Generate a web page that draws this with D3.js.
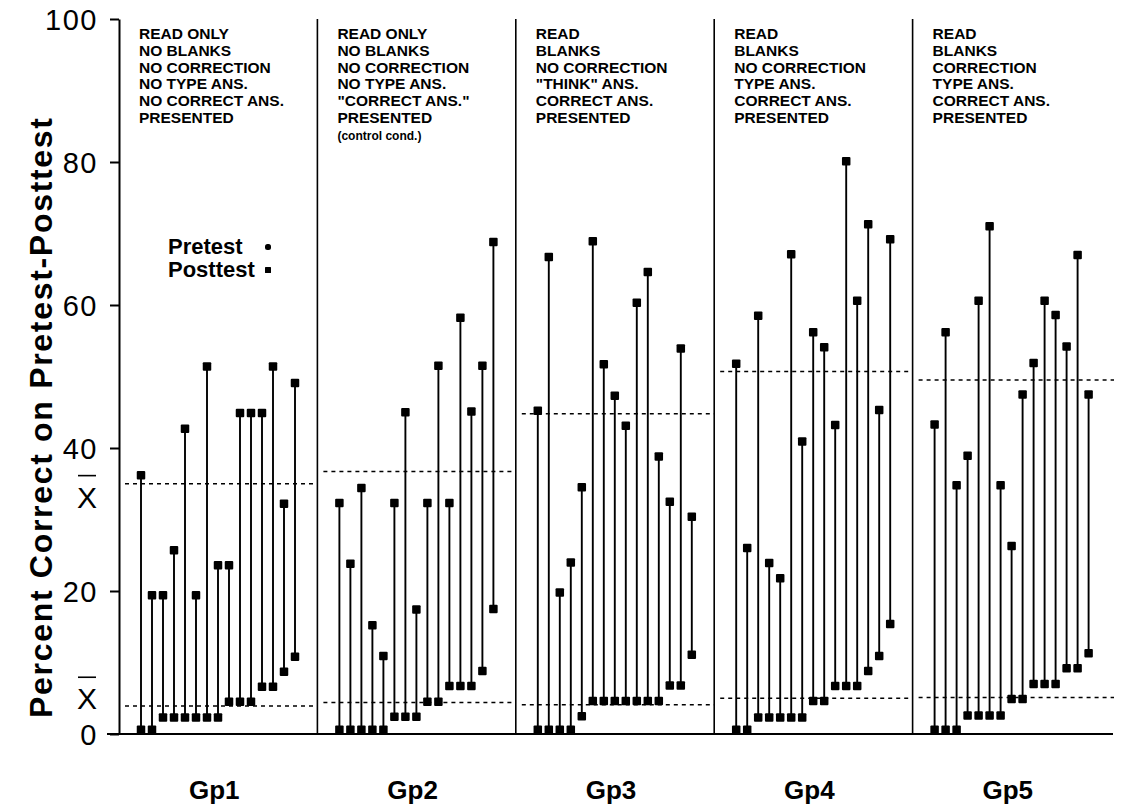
<html>
<head>
<meta charset="utf-8">
<title>pretest posttest</title>
<script src="https://cdn.jsdelivr.net/npm/d3@7"></script>
<style>
  html, body { margin: 0; padding: 0; background: #fff; }
  svg { display: block; font-family: "Liberation Sans", Arial, Helvetica, sans-serif; }
  .tick text { font-size: 29px; letter-spacing: 1.5px; }
  .hdr { font-size: 15.5px; font-weight: bold; }
  .small { font-size: 12px; }
</style>
</head>
<body>
<div id="chart"></div>
<script>
// groups and the condition text printed in each panel
var groups = ["Gp1", "Gp2", "Gp3", "Gp4", "Gp5"];
var conditions = [
  ["READ ONLY", "NO BLANKS", "NO CORRECTION", "NO TYPE ANS.", "NO CORRECT ANS.", "PRESENTED"],
  ["READ ONLY", "NO BLANKS", "NO CORRECTION", "NO TYPE ANS.", "\"CORRECT ANS.\"", "PRESENTED", "(control cond.)"],
  ["READ", "BLANKS", "NO CORRECTION", "\"THINK\" ANS.", "CORRECT ANS.", "PRESENTED"],
  ["READ", "BLANKS", "NO CORRECTION", "TYPE ANS.", "CORRECT ANS.", "PRESENTED"],
  ["READ", "BLANKS", "CORRECTION", "TYPE ANS.", "CORRECT ANS.", "PRESENTED"]
];

// percent correct, 15 subjects per group
var pretest = [
  [0, 0, 2.3, 2.3, 2.3, 2.3, 2.3, 2.3, 4.5, 4.5, 4.5, 6.6, 6.6, 8.7, 10.8],
  [0, 0, 0, 0, 0, 2.4, 2.4, 2.4, 4.5, 4.5, 6.7, 6.7, 6.7, 8.8, 17.5],
  [0, 0, 0, 0, 2.5, 4.6, 4.6, 4.6, 4.6, 4.6, 4.6, 4.6, 6.8, 6.8, 11.1],
  [0, 0, 2.3, 2.3, 2.3, 2.3, 2.3, 4.6, 4.6, 6.7, 6.7, 6.7, 8.8, 10.9, 15.4],
  [0, 0, 0, 2.6, 2.6, 2.6, 2.6, 4.9, 4.9, 7.0, 7.0, 7.0, 9.2, 9.2, 11.3]
];
var posttest = [
  [36.2, 19.4, 19.4, 25.7, 42.7, 19.4, 51.4, 23.6, 23.6, 44.9, 44.9, 44.9, 51.4, 32.2, 49.1],
  [32.3, 23.8, 34.4, 15.2, 10.9, 32.3, 45.0, 17.4, 32.3, 51.5, 32.3, 58.2, 45.1, 51.5, 68.8],
  [45.2, 66.7, 19.8, 24.0, 34.5, 68.9, 51.7, 47.3, 43.1, 60.3, 64.6, 38.8, 32.5, 53.9, 30.4],
  [51.8, 26.0, 58.5, 23.9, 21.8, 67.1, 40.9, 56.2, 54.1, 43.2, 80.1, 60.6, 71.3, 45.3, 69.2],
  [43.3, 56.2, 34.8, 38.9, 60.6, 71.0, 34.8, 26.3, 47.5, 51.9, 60.6, 58.6, 54.2, 67.0, 47.5]
];
var preMean = [3.9, 4.4, 4.1, 5.0, 5.1];
var postMean = [35.0, 36.7, 44.8, 50.7, 49.5];

var yTicks = [0, 20, 40, 60, 80, 100];
var legendItems = ["Pretest", "Posttest"];
var xbarAt = [33.2, 5.0];   // where the X-bar labels sit, in axis units

var width = 1124, height = 808;

var svg = d3.select("#chart").append("svg")
  .attr("width", width)
  .attr("height", height);

var x = d3.scaleBand().domain(groups).range([119, 1111]);
var xs = d3.scalePoint().domain(d3.range(15)).range([22, 176]);
var y = d3.scaleLinear().domain([0, 100]).range([734, 19]);
var bw = x.bandwidth();

// y axis
var yAxis = svg.append("g")
  .attr("transform", "translate(119,0)")
  .call(d3.axisLeft(y).tickValues(yTicks).tickSize(9).tickSizeOuter(0).tickPadding(12));
yAxis.select(".domain").attr("stroke-width", 2);
yAxis.selectAll(".tick line").attr("stroke-width", 2);
yAxis.selectAll(".tick text").attr("fill", "#000").attr("dy", "0.36em");

// baseline
svg.append("line")
  .attr("x1", 107).attr("x2", 1113)
  .attr("y1", y(0)).attr("y2", y(0))
  .attr("stroke", "#000").attr("stroke-width", 2);

// panel dividers
svg.selectAll(".divider")
  .data(groups.slice(1))
  .enter().append("line")
  .attr("class", "divider")
  .attr("x1", function(d) { return x(d); })
  .attr("x2", function(d) { return x(d); })
  .attr("y1", y(100))
  .attr("y2", y(0))
  .attr("stroke", "#000").attr("stroke-width", 1.6);

// condition text
groups.forEach(function(g, i) {
  var t = svg.append("text")
    .attr("class", "hdr")
    .attr("x", x(g) + xs(0) - 2)
    .attr("y", 39);
  conditions[i].forEach(function(line, j) {
    t.append("tspan")
      .attr("x", x(g) + xs(0) - 2)
      .attr("dy", j === 0 ? 0 : 16.8)
      .attr("class", line.charAt(0) === "(" ? "small" : null)
      .text(line);
  });
});

// mean lines
function meanLine(vals, cls) {
  svg.selectAll("." + cls)
    .data(groups)
    .enter().append("line")
    .attr("class", cls)
    .attr("x1", function(d) { return x(d) + 6; })
    .attr("x2", function(d, i) { return x(d) + bw + (i === 4 ? 3 : 0); })
    .attr("y1", function(d, i) { return y(vals[i]); })
    .attr("y2", function(d, i) { return y(vals[i]); })
    .attr("stroke", "#000")
    .attr("stroke-width", 1.5)
    .attr("stroke-dasharray", "4,4");
}
meanLine(postMean, "postmean");
meanLine(preMean, "premean");

// stems and markers
var size = 8.5;
function markY(v) { return Math.min(y(v), y(0) - size / 2); }

groups.forEach(function(g, i) {
  var pg = svg.append("g").attr("transform", "translate(" + x(g) + ",0)");
  var rows = d3.range(15).map(function(k) { return { k: k, pre: pretest[i][k], post: posttest[i][k] }; });

  pg.selectAll(".stem")
    .data(rows)
    .enter().append("line")
    .attr("x1", function(d) { return xs(d.k); })
    .attr("x2", function(d) { return xs(d.k); })
    .attr("y1", function(d) { return markY(d.pre); })
    .attr("y2", function(d) { return markY(d.post); })
    .attr("stroke", "#000").attr("stroke-width", 1.9);

  ["pre", "post"].forEach(function(key) {
    pg.selectAll(".m" + key)
      .data(rows)
      .enter().append("rect")
      .attr("x", function(d) { return xs(d.k) - size / 2; })
      .attr("y", function(d) { return markY(d[key]) - size / 2; })
      .attr("width", size).attr("height", size)
      .attr("rx", 1)
      .attr("fill", "#000");
  });
});

// legend
svg.selectAll(".leg")
  .data(legendItems)
  .enter().append("text")
  .attr("x", 168)
  .attr("y", function(d, i) { return 254 + i * 23; })
  .attr("font-size", 22).attr("font-weight", "bold")
  .text(function(d) { return d; });
svg.selectAll(".legm")
  .data(legendItems)
  .enter().append("rect")
  .attr("x", 265)
  .attr("y", function(d, i) { return 244 + i * 23; })
  .attr("width", 6).attr("height", 6)
  .attr("rx", function(d, i) { return i === 0 ? 2.5 : 0.5; })
  .attr("fill", "#000");

// X-bar labels
xbarAt.forEach(function(v) {
  svg.append("text")
    .attr("x", 87).attr("y", y(v) + 11)
    .attr("text-anchor", "middle")
    .attr("font-size", 30)
    .text("X");
  svg.append("line")
    .attr("x1", 78).attr("x2", 96)
    .attr("y1", y(v) - 21).attr("y2", y(v) - 21)
    .attr("stroke", "#000").attr("stroke-width", 1.6);
});

// group labels
svg.selectAll(".gp")
  .data(groups)
  .enter().append("text")
  .attr("x", function(d) { return x(d) + bw / 2 - 4; })
  .attr("y", 799)
  .attr("text-anchor", "middle")
  .attr("font-size", 26).attr("font-weight", "bold")
  .text(function(d) { return d; });

// y title
svg.append("text")
  .attr("transform", "translate(52,418) rotate(-90)")
  .attr("text-anchor", "middle")
  .attr("font-size", 32).attr("font-weight", "bold")
  .attr("textLength", 600)
  .attr("lengthAdjust", "spacing")
  .text("Percent Correct on Pretest-Posttest");
</script>
</body>
</html>
